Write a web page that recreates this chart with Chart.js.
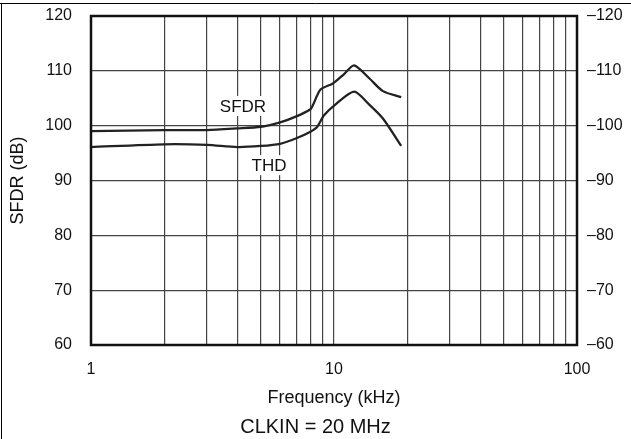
<!DOCTYPE html>
<html>
<head>
<meta charset="utf-8">
<script src="https://cdn.jsdelivr.net/npm/chart.js@4/dist/chart.umd.min.js"></script>
<style>
  html, body { margin: 0; padding: 0; background: #fff; }
</style>
</head>
<body>
<canvas id="myChart" width="631" height="439"></canvas>
<script>
// SFDR curve (dB)
var sfdrFreq = [1, 2, 3, 4, 5, 6, 7, 8, 8.2, 8.8, 9.9, 11, 12.1, 14, 15.9, 18.9];
var sfdrDb   = [99.0, 99.2, 99.2, 99.5, 99.8, 100.6, 101.7, 103.0, 103.8, 106.6, 107.7, 109.4, 111.0, 108.6, 106.3, 105.2];

// THD curve (dB, negative), right axis
var thdFreq = [1, 2, 3, 4, 5, 6, 7, 8, 8.5, 9.1, 10.1, 12.1, 14, 15.9, 18.9];
var thdDb   = [-96.1, -96.6, -96.5, -96.1, -96.3, -96.7, -97.7, -98.9, -99.7, -101.9, -103.8, -106.2, -103.8, -101.3, -96.3];

var xTicks  = [1, 2, 3, 4, 5, 6, 7, 8, 9, 10, 20, 30, 40, 50, 60, 70, 80, 90, 100];
var xLabels = [1, 10, 100];

var curveNames = ['SFDR', 'THD'];
var nameFreq   = [4.22, 5.4];
var nameDb     = [103.6, 92.8];

var FONT = "'Liberation Sans', Arial, Helvetica, sans-serif";
Chart.defaults.font.family = FONT;
Chart.defaults.color = '#111';

function toPoints(xs, ys) {
    var pts = [];
    for (var i = 0; i < xs.length; i++) {
        pts.push({x: xs[i], y: ys[i]});
    }
    return pts;
}

// no extra room for the end labels, layout padding decides
function noOverflow(s) {
    s.paddingTop = 0;
    s.paddingBottom = 0;
    s.paddingLeft = 0;
    s.paddingRight = 0;
}

var extras = {
    id: 'extras',
    beforeDraw: function(chart) {
        var ctx = chart.ctx;
        ctx.save();
        ctx.fillStyle = '#fff';
        ctx.fillRect(0, 0, chart.width, chart.height);
        ctx.strokeStyle = '#000';
        ctx.lineWidth = 1;
        ctx.beginPath();
        ctx.moveTo(0, 3.5);
        ctx.lineTo(chart.width, 3.5);
        ctx.moveTo(1.5, 3);
        ctx.lineTo(1.5, chart.height);
        ctx.stroke();
        ctx.restore();
    },
    beforeDatasetsDraw: function(chart) {
        var ctx = chart.ctx;
        var xs = chart.scales.x, ys = chart.scales.y;
        ctx.save();
        ctx.font = '17px ' + FONT;
        ctx.textAlign = 'center';
        ctx.textBaseline = 'middle';
        for (var i = 0; i < curveNames.length; i++) {
            var px = xs.getPixelForValue(nameFreq[i]);
            var py = ys.getPixelForValue(nameDb[i]);
            var w = ctx.measureText(curveNames[i]).width;
            ctx.fillStyle = '#fff';
            ctx.fillRect(px - w / 2 - 3, py - 10, w + 6, 20);
            ctx.fillStyle = '#111';
            ctx.fillText(curveNames[i], px, py + 1);
        }
        ctx.restore();
    },
    afterDraw: function(chart) {
        var a = chart.chartArea;
        var ctx = chart.ctx;
        ctx.save();
        ctx.strokeStyle = '#111';
        ctx.lineWidth = 2.5;
        ctx.strokeRect(a.left, a.top, a.right - a.left, a.bottom - a.top);
        ctx.restore();
    }
};

var ctx = document.getElementById('myChart').getContext('2d');
var chart = new Chart(ctx, {
    type: 'line',
    data: {
        datasets: [{
            label: 'SFDR',
            data: toPoints(sfdrFreq, sfdrDb),
            yAxisID: 'y',
            borderColor: '#222',
            borderWidth: 2.3,
            pointRadius: 0,
            tension: 0.25,
            fill: false
        }, {
            label: 'THD',
            data: toPoints(thdFreq, thdDb),
            yAxisID: 'y2',
            borderColor: '#222',
            borderWidth: 2.3,
            pointRadius: 0,
            tension: 0.25,
            fill: false
        }]
    },
    options: {
        responsive: false,
        animation: false,
        layout: { padding: { top: 16, left: 0, right: 0, bottom: 0 } },
        plugins: {
            legend: { display: false },
            tooltip: { enabled: false },
            title: {
                display: true,
                position: 'bottom',
                text: 'CLKIN = 20 MHz',
                color: '#111',
                font: { size: 20, weight: 'normal' },
                padding: { top: 0, bottom: 0 }
            }
        },
        scales: {
            x: {
                type: 'logarithmic',
                min: 1,
                max: 100,
                afterBuildTicks: function(s) {
                    s.ticks = xTicks.map(function(v) { return {value: v}; });
                },
                afterFit: function(s) { s.height = 70; noOverflow(s); },
                ticks: {
                    autoSkip: false,
                    maxRotation: 0,
                    padding: 15,
                    font: { size: 16 },
                    callback: function(v) {
                        return xLabels.indexOf(v) >= 0 ? String(v) : '';
                    }
                },
                grid: { color: '#444', lineWidth: 1.2, drawTicks: false },
                border: { display: false },
                title: {
                    display: true,
                    text: 'Frequency (kHz)',
                    font: { size: 18 },
                    padding: { top: 0, bottom: 6 }
                }
            },
            y: {
                position: 'left',
                min: 60,
                max: 120,
                afterFit: function(s) { s.width = 91; noOverflow(s); },
                ticks: { stepSize: 10, padding: 19, font: { size: 16 } },
                grid: { color: '#444', lineWidth: 1.2, drawTicks: false },
                border: { display: false },
                title: {
                    display: true,
                    text: 'SFDR (dB)',
                    font: { size: 18 },
                    padding: { top: 7, bottom: 0 }
                }
            },
            y2: {
                position: 'right',
                min: -120,
                max: -60,
                reverse: true,
                afterFit: function(s) { s.width = 54; noOverflow(s); },
                ticks: {
                    stepSize: 10,
                    padding: 10,
                    font: { size: 16 },
                    callback: function(v) { return String(v).replace('-', '\u2013'); }
                },
                grid: { drawOnChartArea: false, drawTicks: false },
                border: { display: false }
            }
        }
    },
    plugins: [extras]
});
</script>
</body>
</html>
